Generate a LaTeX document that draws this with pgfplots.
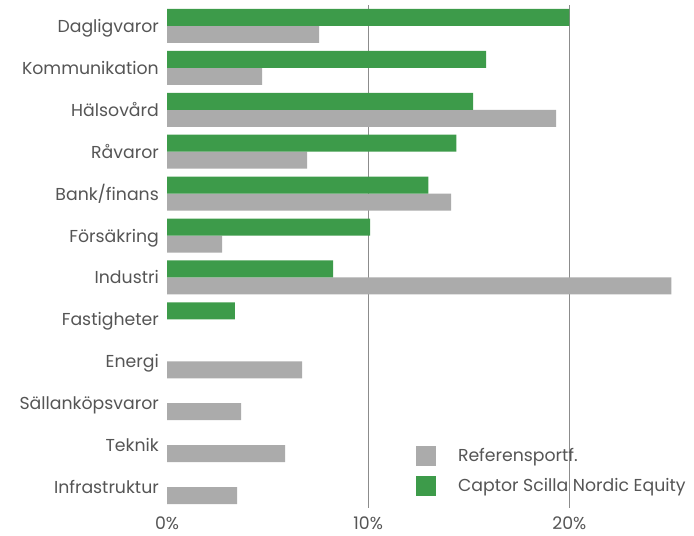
\documentclass[border=0pt]{standalone}
\usepackage{fontspec}
\setmainfont{Poppins}
\usepackage{pgfplots}
\pgfplotsset{compat=1.18}
\definecolor{cgreen}{HTML}{3D9B4A}
\definecolor{cgrey}{HTML}{ABABAB}
\definecolor{ctext}{HTML}{555555}
\definecolor{cgrid}{HTML}{8C8C8C}
\begin{document}
\fontsize{17.3bp}{20bp}\selectfont
\begin{tikzpicture}
\useasboundingbox (0,0) rectangle (694bp,536bp);
\begin{axis}[
  at={(167bp,28bp)}, anchor=south west,
  scale only axis, width=523bp, height=503bp,
  xmin=0, xmax=26, ymin=-0.5, ymax=11.5,
  xbar, bar width=17bp,
  axis line style={draw=none},
  major tick length=0pt,
  xtick={10,20}, extra x ticks={0}, extra x tick style={grid=none},
  xmajorgrids, grid style={color=cgrid, line width=0.9bp},
  /pgf/number format/assume math mode=true,
  xticklabel={\pgfmathprintnumber{\tick}\%},
  xticklabel style={anchor=base, inner sep=0pt, yshift=-22bp, text=ctext},
  ytick={0,...,11},
  yticklabels={Infrastruktur, Teknik, Sällanköpsvaror, Energi, Fastigheter, Industri, Försäkring, Bank/finans, Råvaror, Hälsovård, Kommunikation, Dagligvaror},
  yticklabel style={anchor=base east, inner sep=0pt, xshift=-8bp, yshift=-6.5bp, text=ctext},
  legend image code/.code={\path[#1] (0bp,-10bp) rectangle (20bp,10bp); \path (42bp,0bp);},
  legend cell align=left,
  legend style={at={(0.4761,0.1233)}, anchor=north west, draw=none, fill=none,
    inner sep=0pt, outer sep=0pt, row sep=10bp, column sep=0pt,
    nodes={inner sep=0pt, text=ctext}},
]
\addplot[fill=cgrey, draw=none, bar shift=-8.5bp] coordinates {
  (7.56,11) (4.73,10) (19.35,9) (6.97,8) (14.13,7) (2.74,6)
  (25.07,5) (6.72,3) (3.68,2) (5.87,1) (3.48,0)};
\addlegendentry{Referensportf.}
\addplot[fill=cgreen, draw=none, bar shift=8.5bp] coordinates {
  (20.0,11) (15.87,10) (15.22,9) (14.38,8) (12.99,7) (10.1,6)
  (8.26,5) (3.38,4)};
\addlegendentry{Captor Scilla Nordic Equity}
\end{axis}
\end{tikzpicture}
\end{document}
